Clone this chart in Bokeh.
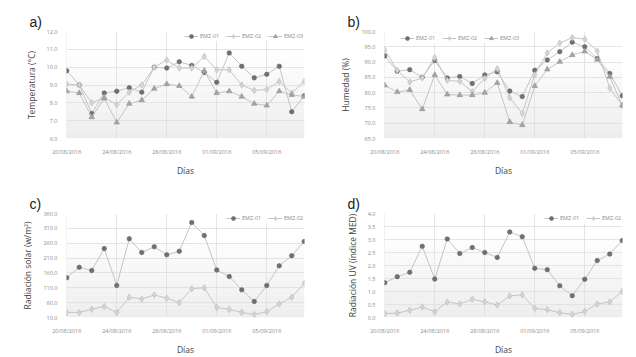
from bokeh.plotting import figure
from bokeh.layouts import gridplot
from bokeh.models import (FixedTicker, NumeralTickFormatter, BoxAnnotation,
                          Legend, LegendItem, Range1d, CustomJSTickFormatter)
from bokeh.embed import file_html
from bokeh.resources import INLINE

days = ["20/08/2016", "21/08/2016", "22/08/2016", "23/08/2016", "24/08/2016",
        "25/08/2016", "26/08/2016", "27/08/2016", "28/08/2016", "29/08/2016",
        "30/08/2016", "31/08/2016", "01/09/2016", "02/09/2016", "03/09/2016",
        "04/09/2016", "05/09/2016", "06/09/2016", "07/09/2016", "08/09/2016"]
tick_days = ["20/08/2016", "24/08/2016", "28/08/2016", "01/09/2016", "05/09/2016"]

temp_emz01 = [9.8, 9.0, 7.4, 8.55, 8.65, 8.85, 8.6, 10.0, 9.95, 10.3,
              10.1, 9.7, 9.15, 10.8, 10.05, 9.4, 9.6, 10.05, 7.5, 8.4]
temp_emz02 = [9.05, 9.0, 8.0, 8.3, 7.9, 8.6, 9.0, 10.0, 10.4, 9.95,
              9.95, 10.6, 9.85, 9.85, 9.0, 8.7, 8.75, 9.2, 8.55, 9.2]
temp_emz03 = [8.65, 8.55, 7.2, 8.25, 6.9, 7.95, 8.15, 8.8, 9.05, 8.95,
              8.35, 9.8, 8.55, 8.65, 8.35, 7.95, 7.85, 8.65, 8.45, 8.35]

hum_emz01 = [92.0, 87.0, 87.5, 85.0, 90.5, 84.8, 85.3, 83.0, 85.8, 86.8,
             80.5, 78.7, 87.3, 90.7, 93.4, 96.5, 95.0, 91.2, 86.3, 79.0]
hum_emz02 = [94.0, 87.3, 83.5, 84.8, 91.5, 84.0, 83.7, 80.3, 84.7, 87.8,
             78.3, 73.2, 85.8, 93.0, 96.2, 98.0, 97.5, 93.6, 81.5, 75.8]
hum_emz03 = [82.4, 80.2, 80.9, 74.6, 85.8, 79.4, 79.2, 79.2, 80.0, 83.2,
             70.4, 69.4, 82.2, 87.6, 90.1, 92.3, 93.5, 90.8, 85.2, 75.8]

rad_emz01 = [144, 179, 168, 242, 118, 275, 229, 248, 221, 233,
             330, 286, 170, 148, 103, 64, 118, 184, 218, 266]
rad_emz02 = [27, 27, 38, 47, 27, 78, 72, 86, 75, 60,
             107, 110, 44, 37, 27, 20, 29, 56, 78, 125]

uv_emz01 = [1.34, 1.57, 1.74, 2.74, 1.48, 3.02, 2.46, 2.69, 2.5, 2.31,
            3.29, 3.11, 1.89, 1.84, 1.22, 0.84, 1.47, 2.19, 2.44, 2.96]
uv_emz02 = [0.15, 0.17, 0.28, 0.4, 0.22, 0.6, 0.52, 0.7, 0.6, 0.48,
            0.83, 0.87, 0.35, 0.3, 0.18, 0.12, 0.23, 0.52, 0.6, 1.0]

FONT = "Open Sans"
STYLES = {
    "EMZ-01": dict(marker="circle", size=4.5, fill="#707070", line="#666666"),
    "EMZ-02": dict(marker="diamond", size=6.5, fill="#d4d4d4", line="#bcbcbc"),
    "EMZ-03": dict(marker="triangle", size=5.5, fill="#a4a4a4", line="#939393"),
}


def gray(v):
    v = int(round(v))
    return "#%02x%02x%02x" % (v, v, v)


def make_panel(letter, ylabel, y0, y1, ystep, series, legend_loc, borders):
    top, bottom = borders
    x = list(range(len(days)))
    h = top + bottom + (118 if top < 33 else 116)
    p = figure(width=318, height=h, output_backend="svg", toolbar_location=None,
               x_range=Range1d(-0.02, len(days) - 1 + 0.02), y_range=Range1d(y0, y1),
               min_border_left=66, min_border_right=14,
               min_border_top=top, min_border_bottom=bottom)
    p.outline_line_color = None
    p.background_fill_color = "white"
    p.border_fill_color = "white"

    # vertical gradient background
    n = 24
    for i in range(n):
        b = y0 + (y1 - y0) * i / n
        t = y0 + (y1 - y0) * (i + 1) / n
        frac = i / (n - 1)
        c = 237 + (255 - 237) * min(1.0, frac * 1.2)
        p.add_layout(BoxAnnotation(bottom=b, top=t, fill_color=gray(c), fill_alpha=1.0,
                                   line_color=None, level="image"))

    # panel letter
    p.title.text = letter
    p.title.text_font = "Liberation Sans"
    p.title.text_font_size = "14px"
    p.title.text_font_style = "normal"
    p.title.text_color = "#222222"
    p.title.offset = -37
    p.title.standoff = 3

    tick_pos = [days.index(d) for d in tick_days]
    p.xaxis.ticker = FixedTicker(ticks=tick_pos)
    p.xaxis.formatter = CustomJSTickFormatter(
        args=dict(labels=days),
        code="const i = Math.round(tick); return (i >= 0 && i < labels.length) ? labels[i] : '';")
    yt = []
    v = y0
    while v <= y1 + 1e-9:
        yt.append(round(v, 4))
        v += ystep
    p.yaxis.ticker = FixedTicker(ticks=yt)
    p.yaxis.formatter = NumeralTickFormatter(format="0.0")

    for ax in (p.xaxis[0], p.yaxis[0]):
        ax.axis_line_color = None
        ax.major_tick_line_color = None
        ax.minor_tick_line_color = None
        ax.major_label_text_font = FONT
        ax.major_label_text_font_size = "5.5px"
        ax.major_label_text_color = "#8a8a8a"
        ax.axis_label_text_font = FONT
        ax.axis_label_text_font_size = "8.5px"
        ax.axis_label_text_font_style = "normal"
        ax.axis_label_text_color = "#444444"
    p.xaxis.axis_label = "Días"
    p.xaxis.major_label_standoff = 3
    p.xaxis.axis_label_standoff = 6
    p.yaxis.axis_label = ylabel
    p.yaxis.major_label_standoff = 3
    p.yaxis.axis_label_standoff = 7

    p.xgrid.grid_line_color = "#dedede"
    p.ygrid.grid_line_color = "#dedede"
    p.xgrid.grid_line_width = 0.8
    p.ygrid.grid_line_width = 0.8

    items = []
    for name, vals in series:
        st = STYLES[name]
        lr = p.line(x, vals, line_color="#c4c4c4", line_width=1)
        sr = p.scatter(x, vals, marker=st["marker"], size=st["size"],
                       fill_color=st["fill"], line_color=st["line"], line_width=0.6)
        items.append(LegendItem(label=name, renderers=[lr, sr]))
    lg = Legend(items=items, orientation="horizontal", location=legend_loc,
                background_fill_color="white", background_fill_alpha=1.0,
                border_line_color=None, label_text_font=FONT,
                label_text_font_size="5.5px", label_text_color="#8a8a8a",
                glyph_width=14, glyph_height=10, label_standoff=2, spacing=6,
                padding=2, margin=0, label_height=10)
    p.add_layout(lg)
    return p


pa = make_panel("a)", "Temperatura (°C)", 6.0, 12.0, 1.0,
                [("EMZ-01", temp_emz01), ("EMZ-02", temp_emz02), ("EMZ-03", temp_emz03)],
                "top_right", (31, 29))
pb = make_panel("b)", "Humedad (%)", 65.0, 100.0, 5.0,
                [("EMZ-01", hum_emz01), ("EMZ-02", hum_emz02), ("EMZ-03", hum_emz03)],
                (16, 95), (31, 29))
pc = make_panel("c)", "Radiación solar (w/m²)", 10.0, 360.0, 50.0,
                [("EMZ-01", rad_emz01), ("EMZ-02", rad_emz02)],
                "top_right", (35, 28))
pd_ = make_panel("d)", "Radiación UV (índice MED)", 0.0, 4.0, 0.5,
                 [("EMZ-01", uv_emz01), ("EMZ-02", uv_emz02)],
                 "top_right", (35, 28))

grid = gridplot([[pa, pb], [pc, pd_]], toolbar_location=None)
open("out.html", "w").write(file_html(grid, INLINE))
